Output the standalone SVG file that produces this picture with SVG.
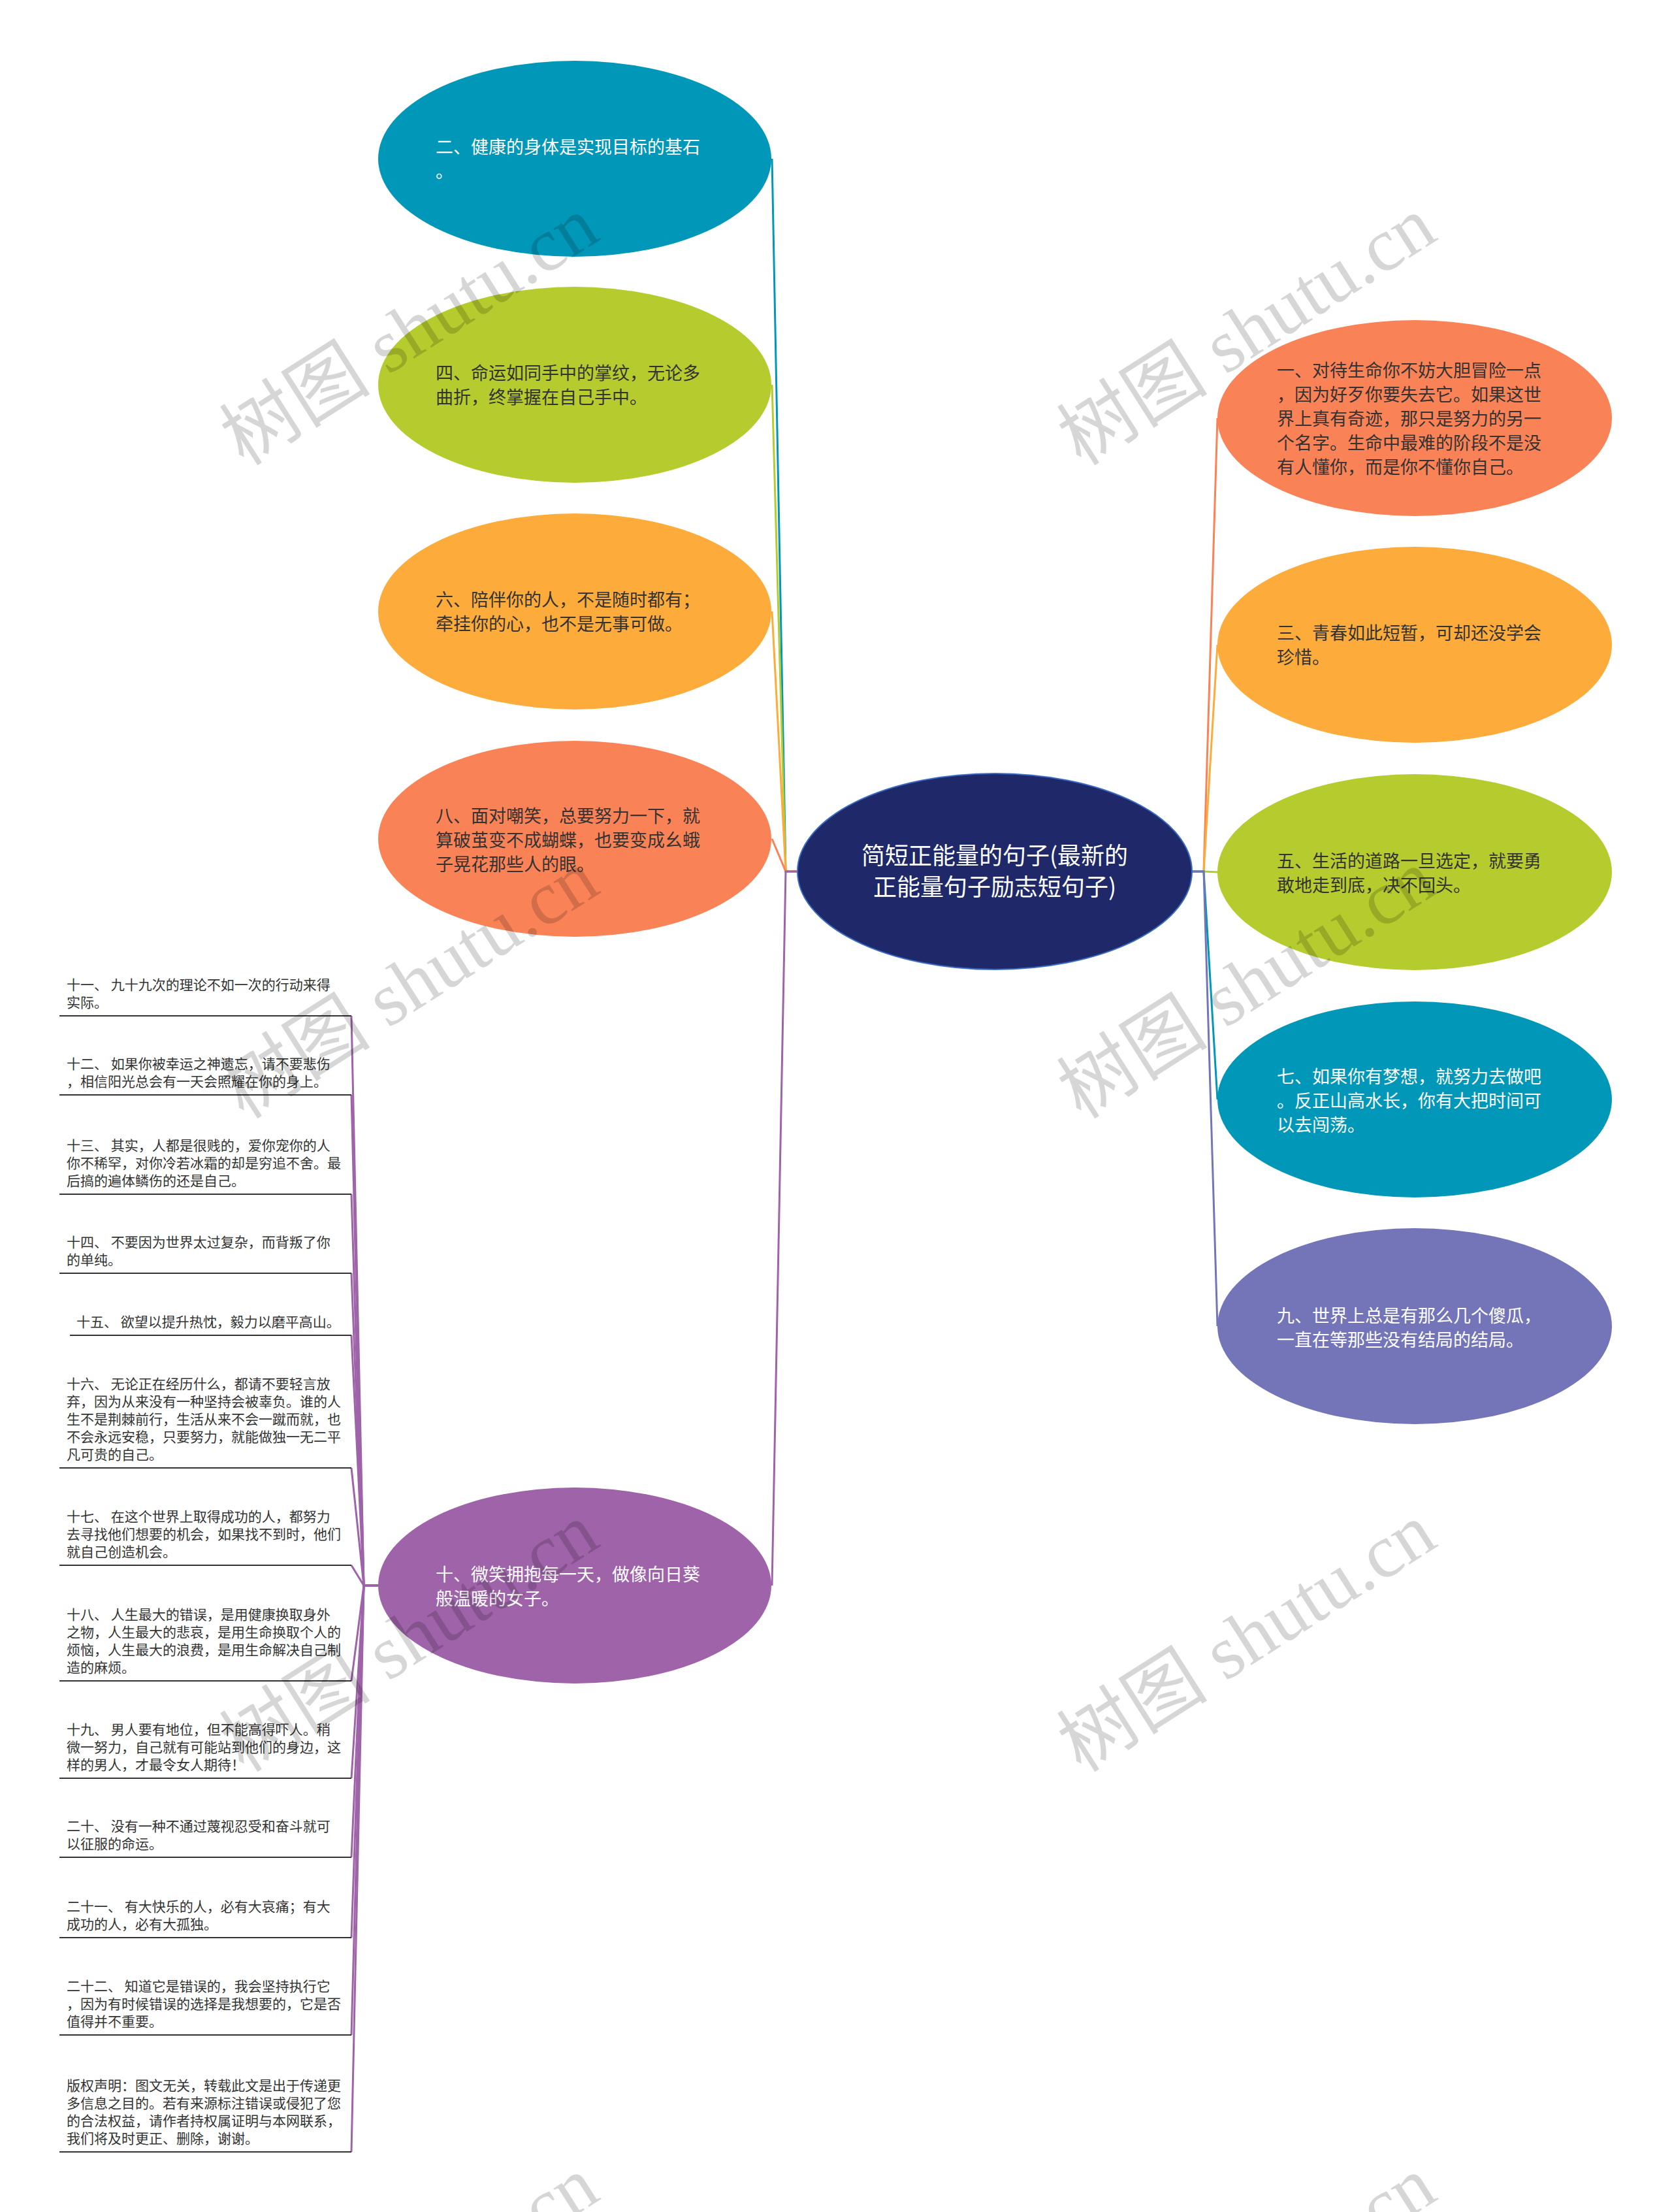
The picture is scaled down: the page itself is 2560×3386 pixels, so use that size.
<svg xmlns="http://www.w3.org/2000/svg" width="2560" height="3386" viewBox="0 0 2560 3386">
<style>
.nt{font-family:"Noto Sans CJK SC","Noto Sans",sans-serif;font-size:27px}
.dk{fill:#333333}
.wt{fill:#ffffff}
.ct{font-family:"Noto Sans CJK SC","Noto Sans",sans-serif;font-size:36px;fill:#ffffff;text-anchor:middle}
.lt{font-family:"Noto Sans CJK SC","Noto Sans",sans-serif;font-size:21px;fill:#333333}
.ul{stroke:#333333;stroke-width:2;fill:none}
.cn{fill:none;stroke-width:3}
.wm{font-family:"Liberation Serif","Noto Sans CJK SC",serif;font-size:116px;fill:#000000;fill-opacity:0.16;text-anchor:middle}
</style>
<rect width="2560" height="3386" fill="#ffffff"/>
<g id="connectors">
<path class="cn" stroke="#0097B8" d="M1221 1334 H1203 L1182 243"/>
<path class="cn" stroke="#B6CB2D" d="M1221 1334 H1203 L1182 589"/>
<path class="cn" stroke="#FDAB3A" d="M1221 1334 H1203 L1182 936"/>
<path class="cn" stroke="#FA8257" d="M1221 1334 H1203 L1182 1284"/>
<path class="cn" stroke="#9E63A8" d="M1221 1334 H1203 L1182 2427"/>
<path class="cn" stroke="#FA8257" d="M1825 1334 H1843 L1864 640"/>
<path class="cn" stroke="#FDAB3A" d="M1825 1334 H1843 L1864 987"/>
<path class="cn" stroke="#B6CB2D" d="M1825 1334 H1843 L1864 1335"/>
<path class="cn" stroke="#0097B8" d="M1825 1334 H1843 L1864 1683"/>
<path class="cn" stroke="#7474B9" d="M1825 1334 H1843 L1864 2030"/>
<g stroke="#9E63A8">
<path class="cn" d="M579 2427 H557 L538 1555"/>
<path class="cn" d="M579 2427 H557 L538 1676"/>
<path class="cn" d="M579 2427 H557 L538 1828"/>
<path class="cn" d="M579 2427 H557 L538 1949"/>
<path class="cn" d="M579 2427 H557 L538 2044"/>
<path class="cn" d="M579 2427 H557 L538 2247"/>
<path class="cn" d="M579 2427 H557 L538 2396"/>
<path class="cn" d="M579 2427 H557 L538 2573"/>
<path class="cn" d="M579 2427 H557 L538 2722"/>
<path class="cn" d="M579 2427 H557 L538 2843"/>
<path class="cn" d="M579 2427 H557 L538 2966"/>
<path class="cn" d="M579 2427 H557 L538 3115"/>
<path class="cn" d="M579 2427 H557 L538 3294"/>
</g>
</g>
<g id="center">
<ellipse cx="1523" cy="1334" rx="302" ry="150" fill="#1F2868" stroke="#3A6BC4" stroke-width="2"/>
<text class="ct" x="1523" y="1323">简短正能量的句子(最新的</text>
<text class="ct" x="1523" y="1371">正能量句子励志短句子)</text>
</g>
<g id="n2">
<ellipse cx="880" cy="243" rx="301" ry="150" fill="#0097B8"/>
<text class="nt wt" x="667" y="235">二、健康的身体是实现目标的基石</text>
<text class="nt wt" x="667" y="272">。</text>
</g>
<g id="n4">
<ellipse cx="880" cy="589" rx="301" ry="150" fill="#B6CB2D"/>
<text class="nt dk" x="667" y="581">四、命运如同手中的掌纹，无论多</text>
<text class="nt dk" x="667" y="618">曲折，终掌握在自己手中。</text>
</g>
<g id="n6">
<ellipse cx="880" cy="936" rx="301" ry="150" fill="#FDAB3A"/>
<text class="nt dk" x="667" y="928">六、陪伴你的人，不是随时都有；</text>
<text class="nt dk" x="667" y="965">牵挂你的心，也不是无事可做。</text>
</g>
<g id="n8">
<ellipse cx="880" cy="1284" rx="301" ry="150" fill="#FA8257"/>
<text class="nt dk" x="667" y="1259">八、面对嘲笑，总要努力一下，就</text>
<text class="nt dk" x="667" y="1296">算破茧变不成蝴蝶，也要变成幺蛾</text>
<text class="nt dk" x="667" y="1333">子晃花那些人的眼。</text>
</g>
<g id="n10">
<ellipse cx="880" cy="2427" rx="301" ry="150" fill="#9E63A8"/>
<text class="nt wt" x="667" y="2420">十、微笑拥抱每一天，做像向日葵</text>
<text class="nt wt" x="667" y="2457">般温暖的女子。</text>
</g>
<g id="n1">
<ellipse cx="2166" cy="640" rx="302" ry="150" fill="#FA8257"/>
<text class="nt dk" x="1955" y="577">一、对待生命你不妨大胆冒险一点</text>
<text class="nt dk" x="1955" y="614">，因为好歹你要失去它。如果这世</text>
<text class="nt dk" x="1955" y="651">界上真有奇迹，那只是努力的另一</text>
<text class="nt dk" x="1955" y="688">个名字。生命中最难的阶段不是没</text>
<text class="nt dk" x="1955" y="725">有人懂你，而是你不懂你自己。</text>
</g>
<g id="n3">
<ellipse cx="2166" cy="987" rx="302" ry="150" fill="#FDAB3A"/>
<text class="nt dk" x="1955" y="979">三、青春如此短暂，可却还没学会</text>
<text class="nt dk" x="1955" y="1016">珍惜。</text>
</g>
<g id="n5">
<ellipse cx="2166" cy="1335" rx="302" ry="150" fill="#B6CB2D"/>
<text class="nt dk" x="1955" y="1328">五、生活的道路一旦选定，就要勇</text>
<text class="nt dk" x="1955" y="1365">敢地走到底，决不回头。</text>
</g>
<g id="n7">
<ellipse cx="2166" cy="1683" rx="302" ry="150" fill="#0097B8"/>
<text class="nt wt" x="1955" y="1658">七、如果你有梦想，就努力去做吧</text>
<text class="nt wt" x="1955" y="1695">。反正山高水长，你有大把时间可</text>
<text class="nt wt" x="1955" y="1732">以去闯荡。</text>
</g>
<g id="n9">
<ellipse cx="2166" cy="2030" rx="302" ry="150" fill="#7474B9"/>
<text class="nt wt" x="1955" y="2024">九、世界上总是有那么几个傻瓜，</text>
<text class="nt wt" x="1955" y="2061">一直在等那些没有结局的结局。</text>
</g>
<g id="n11">
<text class="lt" x="102" y="1515">十一、 九十九次的理论不如一次的行动来得</text>
<text class="lt" x="102" y="1542">实际。</text>
<path class="ul" d="M91 1555 H538"/>
</g>
<g id="n12">
<text class="lt" x="102" y="1636">十二、 如果你被幸运之神遗忘，请不要悲伤</text>
<text class="lt" x="102" y="1663">，相信阳光总会有一天会照耀在你的身上。</text>
<path class="ul" d="M91 1676 H538"/>
</g>
<g id="n13">
<text class="lt" x="102" y="1761">十三、 其实，人都是很贱的，爱你宠你的人</text>
<text class="lt" x="102" y="1788">你不稀罕，对你冷若冰霜的却是穷追不舍。最</text>
<text class="lt" x="102" y="1815">后搞的遍体鳞伤的还是自己。</text>
<path class="ul" d="M91 1828 H538"/>
</g>
<g id="n14">
<text class="lt" x="102" y="1909">十四、 不要因为世界太过复杂，而背叛了你</text>
<text class="lt" x="102" y="1936">的单纯。</text>
<path class="ul" d="M91 1949 H538"/>
</g>
<g id="n15">
<text class="lt" x="117" y="2031">十五、 欲望以提升热忱，毅力以磨平高山。</text>
<path class="ul" d="M107 2044 H538"/>
</g>
<g id="n16">
<text class="lt" x="102" y="2126">十六、 无论正在经历什么，都请不要轻言放</text>
<text class="lt" x="102" y="2153">弃，因为从来没有一种坚持会被辜负。谁的人</text>
<text class="lt" x="102" y="2180">生不是荆棘前行，生活从来不会一蹴而就，也</text>
<text class="lt" x="102" y="2207">不会永远安稳，只要努力，就能做独一无二平</text>
<text class="lt" x="102" y="2234">凡可贵的自己。</text>
<path class="ul" d="M91 2247 H538"/>
</g>
<g id="n17">
<text class="lt" x="102" y="2329">十七、 在这个世界上取得成功的人，都努力</text>
<text class="lt" x="102" y="2356">去寻找他们想要的机会，如果找不到时，他们</text>
<text class="lt" x="102" y="2383">就自己创造机会。</text>
<path class="ul" d="M91 2396 H538"/>
</g>
<g id="n18">
<text class="lt" x="102" y="2479">十八、 人生最大的错误，是用健康换取身外</text>
<text class="lt" x="102" y="2506">之物，人生最大的悲哀，是用生命换取个人的</text>
<text class="lt" x="102" y="2533">烦恼，人生最大的浪费，是用生命解决自己制</text>
<text class="lt" x="102" y="2560">造的麻烦。</text>
<path class="ul" d="M91 2573 H538"/>
</g>
<g id="n19">
<text class="lt" x="102" y="2655">十九、 男人要有地位，但不能高得吓人。稍</text>
<text class="lt" x="102" y="2682">微一努力，自己就有可能站到他们的身边，这</text>
<text class="lt" x="102" y="2709">样的男人，才最令女人期待！</text>
<path class="ul" d="M91 2722 H538"/>
</g>
<g id="n20">
<text class="lt" x="102" y="2803">二十、 没有一种不通过蔑视忍受和奋斗就可</text>
<text class="lt" x="102" y="2830">以征服的命运。</text>
<path class="ul" d="M91 2843 H538"/>
</g>
<g id="n21">
<text class="lt" x="102" y="2926">二十一、 有大快乐的人，必有大哀痛；有大</text>
<text class="lt" x="102" y="2953">成功的人，必有大孤独。</text>
<path class="ul" d="M91 2966 H538"/>
</g>
<g id="n22">
<text class="lt" x="102" y="3048">二十二、 知道它是错误的，我会坚持执行它</text>
<text class="lt" x="102" y="3075">，因为有时候错误的选择是我想要的，它是否</text>
<text class="lt" x="102" y="3102">值得并不重要。</text>
<path class="ul" d="M91 3115 H538"/>
</g>
<g id="copyright">
<text class="lt" x="102" y="3200">版权声明：图文无关，转载此文是出于传递更</text>
<text class="lt" x="102" y="3227">多信息之目的。若有来源标注错误或侵犯了您</text>
<text class="lt" x="102" y="3254">的合法权益，请作者持权属证明与本网联系，</text>
<text class="lt" x="102" y="3281">我们将及时更正、删除，谢谢。</text>
<path class="ul" d="M91 3294 H538"/>
</g>
<g id="watermarks">
<text class="wm" transform="translate(648 540) rotate(-32.5)">树图 shutu.cn</text>
<text class="wm" transform="translate(1930 540) rotate(-32.5)">树图 shutu.cn</text>
<text class="wm" transform="translate(648 1540) rotate(-32.5)">树图 shutu.cn</text>
<text class="wm" transform="translate(1930 1540) rotate(-32.5)">树图 shutu.cn</text>
<text class="wm" transform="translate(648 2540) rotate(-32.5)">树图 shutu.cn</text>
<text class="wm" transform="translate(1930 2540) rotate(-32.5)">树图 shutu.cn</text>
<text class="wm" transform="translate(648 3540) rotate(-32.5)">树图 shutu.cn</text>
<text class="wm" transform="translate(1930 3540) rotate(-32.5)">树图 shutu.cn</text>
</g>
</svg>
